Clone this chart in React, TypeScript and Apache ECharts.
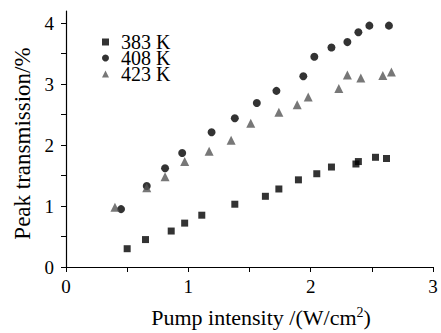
import React, { useEffect, useRef } from "react";
import * as echarts from "echarts";

const x383 = [0.50, 0.65, 0.86, 0.97, 1.11, 1.38, 1.63, 1.74, 1.90, 2.05, 2.17, 2.37, 2.39, 2.53, 2.62];
const y383 = [0.30, 0.45, 0.59, 0.72, 0.85, 1.03, 1.16, 1.28, 1.43, 1.53, 1.64, 1.69, 1.73, 1.80, 1.78];
const x408 = [0.45, 0.66, 0.81, 0.95, 1.19, 1.38, 1.56, 1.72, 1.94, 2.03, 2.17, 2.30, 2.39, 2.48, 2.64];
const y408 = [0.95, 1.33, 1.62, 1.87, 2.21, 2.44, 2.69, 2.89, 3.13, 3.45, 3.60, 3.69, 3.85, 3.96, 3.96];
const x423 = [0.40, 0.66, 0.81, 0.97, 1.17, 1.35, 1.51, 1.74, 1.89, 1.98, 2.23, 2.30, 2.41, 2.59, 2.66];
const y423 = [0.98, 1.30, 1.48, 1.73, 1.90, 2.08, 2.36, 2.54, 2.66, 2.79, 2.93, 3.15, 3.10, 3.14, 3.20];
const seriesNames = ["383 K", "408 K", "423 K"];
const xTicks = [0, 0.5, 1, 1.5, 2, 2.5, 3];
const xLabels = [0, 1, 2, 3];
const yTicks = [0, 0.5, 1, 1.5, 2, 2.5, 3, 3.5, 4];
const yLabels = [0, 1, 2, 3, 4];

const FONT = "Liberation Serif";

export default function App() {
  const ref = useRef<HTMLDivElement>(null);
  useEffect(() => {
    const chart = echarts.init(ref.current!, undefined, { renderer: "svg" });
    const zip = (xs: number[], ys: number[]) => xs.map((x, i) => [x, ys[i]]);
    chart.setOption({
      animation: false,
      textStyle: { fontFamily: FONT },
      grid: { left: 66, right: 8, top: 11, bottom: 61 },
      legend: {
        orient: "vertical",
        left: 102,
        top: 32,
        padding: 0,
        itemWidth: 7,
        itemHeight: 7,
        itemGap: -4,
        data: [
          { name: seriesNames[0], icon: "rect", itemStyle: { color: "#000" } },
          { name: seriesNames[1], icon: "circle", itemStyle: { color: "#000" } },
          { name: seriesNames[2], icon: "triangle", itemStyle: { color: "#555" } },
        ],
        textStyle: { fontFamily: FONT, fontSize: 20, color: "#000", padding: [0, 0, 0, 7] },
      },
      xAxis: {
        type: "value",
        min: 0,
        max: 3,
        name: "Pump intensity /(W/cm{sup|2})",
        nameLocation: "middle",
        nameGap: 38,
        nameTextStyle: {
          fontFamily: FONT,
          fontSize: 22,
          color: "#000",
          padding: [0, 0, 0, 23],
          rich: { sup: { fontFamily: FONT, fontSize: 14, color: "#000", padding: [0, 0, 10, 0] } },
        },
        splitLine: { show: false },
        axisLine: { lineStyle: { color: "#000", width: 1.2 } },
        axisTick: { show: true, length: 5, lineStyle: { color: "#000" }, customValues: xTicks },
        axisLabel: { fontFamily: FONT, fontSize: 19, color: "#000", margin: 10, customValues: xLabels },
      },
      yAxis: {
        type: "value",
        min: 0,
        max: 4.2,
        name: "Peak transmission/%",
        nameLocation: "middle",
        nameGap: 32,
        nameTextStyle: { fontFamily: FONT, fontSize: 23, color: "#000", padding: [0, 9, 0, 0] },
        splitLine: { show: false },
        axisLine: { show: true, lineStyle: { color: "#000", width: 1.2 } },
        axisTick: { show: true, length: 5, lineStyle: { color: "#000" }, customValues: yTicks },
        axisLabel: { fontFamily: FONT, fontSize: 19, color: "#000", margin: 12, customValues: yLabels },
      },
      series: [
        { name: seriesNames[0], type: "scatter", symbol: "rect", symbolSize: 7, itemStyle: { color: "#000" }, data: zip(x383, y383) },
        { name: seriesNames[1], type: "scatter", symbol: "circle", symbolSize: 8, itemStyle: { color: "#000" }, data: zip(x408, y408) },
        { name: seriesNames[2], type: "scatter", symbol: "triangle", symbolSize: 9, itemStyle: { color: "#555" }, data: zip(x423, y423) },
      ],
    });
    return () => chart.dispose();
  }, []);
  return <div ref={ref} style={{ width: 441, height: 333, position: "absolute", left: 0, top: 0, background: "#fff" }} />;
}
